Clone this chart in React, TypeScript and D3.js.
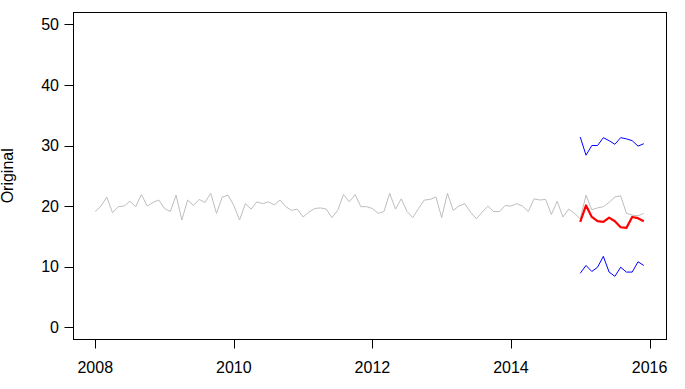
import React from "react";
import * as d3 from "d3";

const startYear = 2008;
const original: number[] = [
  19.1, 20.0, 21.5, 18.9, 19.9, 20.0, 20.8, 19.9, 21.9, 20.0, 20.6, 21.0,
  19.6, 19.1, 21.8, 17.7, 21.0, 20.1, 21.1, 20.6, 22.1, 18.8, 21.5, 21.8,
  20.1, 17.7, 20.4, 19.5, 20.7, 20.4, 20.7, 20.2, 21.0, 19.9, 19.3, 19.5,
  18.2, 19.0, 19.6, 19.7, 19.5, 18.1, 19.3, 21.9, 20.7, 21.9, 19.9, 19.9,
  19.6, 18.8, 19.1, 22.1, 19.5, 21.2, 19.1, 18.1, 19.6, 21.0, 21.1, 21.5,
  18.1, 22.1, 19.3, 20.0, 20.4, 19.0, 17.9, 19.0, 20.0, 19.1, 19.1, 20.1,
  20.0, 20.4, 20.0, 19.1, 21.2, 21.0, 21.1, 18.6, 20.8, 18.2, 19.5, 18.8,
  17.9, 21.8, 19.4, 19.7, 19.9, 20.6, 21.5, 21.7, 18.8, 18.5, 18.4, 18.8,
];
const forecastStart = 2015;
const forecast: number[] = [17.4, 20.1, 18.2, 17.5, 17.4, 18.1, 17.5, 16.5, 16.4, 18.2, 18.0, 17.5];
const upper: number[] = [31.4, 28.4, 30.0, 30.0, 31.3, 30.8, 30.2, 31.3, 31.1, 30.8, 29.9, 30.3];
const lower: number[] = [8.9, 10.2, 9.2, 9.9, 11.7, 9.1, 8.4, 9.9, 9.1, 9.1, 10.8, 10.2];
const xTicks: number[] = [2008, 2010, 2012, 2014, 2016];
const yTicks: number[] = [0, 10, 20, 30, 40, 50];
const yLabel = "Original";

export default function App() {
  const W = 685, H = 389;
  const L = 73.3, R = 665.7, T = 12.3, B = 339.3;
  const xMin = 2008, xMax = 2015 + 11 / 12;
  const xr = xMax - xMin;
  const x = d3.scaleLinear().domain([xMin - 0.04 * xr, xMax + 0.04 * xr]).range([L, R]);
  const y = d3.scaleLinear().domain([-2, 52]).range([B, T]);

  const pts = (vals: number[], start: number) => vals.map((v, i) => [start + i / 12, v] as [number, number]);
  const line = d3.line<[number, number]>().x((d) => x(d[0])).y((d) => y(d[1]));
  const font = "'Liberation Sans', Arial, sans-serif";

  return (
    <svg width={W} height={H} style={{ position: "absolute", left: 0, top: 0, background: "#fff" }} fontFamily={font}>
      <rect x={0} y={0} width={W} height={H} fill="#fff" />
      <path d={line(pts(original, startYear)) || ""} fill="none" stroke="#bebebe" strokeWidth={1} />
      <path d={line(pts(upper, forecastStart)) || ""} fill="none" stroke="#0000ff" strokeWidth={1} />
      <path d={line(pts(lower, forecastStart)) || ""} fill="none" stroke="#0000ff" strokeWidth={1} />
      <path d={line(pts(forecast, forecastStart)) || ""} fill="none" stroke="#ff0000" strokeWidth={2.2} strokeLinejoin="round" />
      <rect x={Math.round(L) + 0.5} y={Math.round(T) + 0.5} width={Math.round(R) - Math.round(L)} height={Math.round(B) - Math.round(T)} fill="none" stroke="#000" strokeWidth={1} />
      {xTicks.map((t) => (
        <g key={"x" + t}>
          <line x1={Math.round(x(t)) + 0.5} x2={Math.round(x(t)) + 0.5} y1={Math.round(B) + 0.5} y2={Math.round(B) + 9.5} stroke="#000" />
          <text x={x(t)} y={373.3} fontSize={16} textAnchor="middle" fill="#000">{t}</text>
        </g>
      ))}
      {yTicks.map((t) => (
        <g key={"y" + t}>
          <line x1={Math.round(L) - 9 + 0.5} x2={Math.round(L) + 0.5} y1={Math.round(y(t)) + 0.5} y2={Math.round(y(t)) + 0.5} stroke="#000" />
          <text x={59} y={y(t) + 5.8} fontSize={16} textAnchor="end" fill="#000">{t}</text>
        </g>
      ))}
      <text transform={`translate(13,${(T + B) / 2}) rotate(-90)`} fontSize={16} textAnchor="middle" fill="#000">{yLabel}</text>
    </svg>
  );
}
